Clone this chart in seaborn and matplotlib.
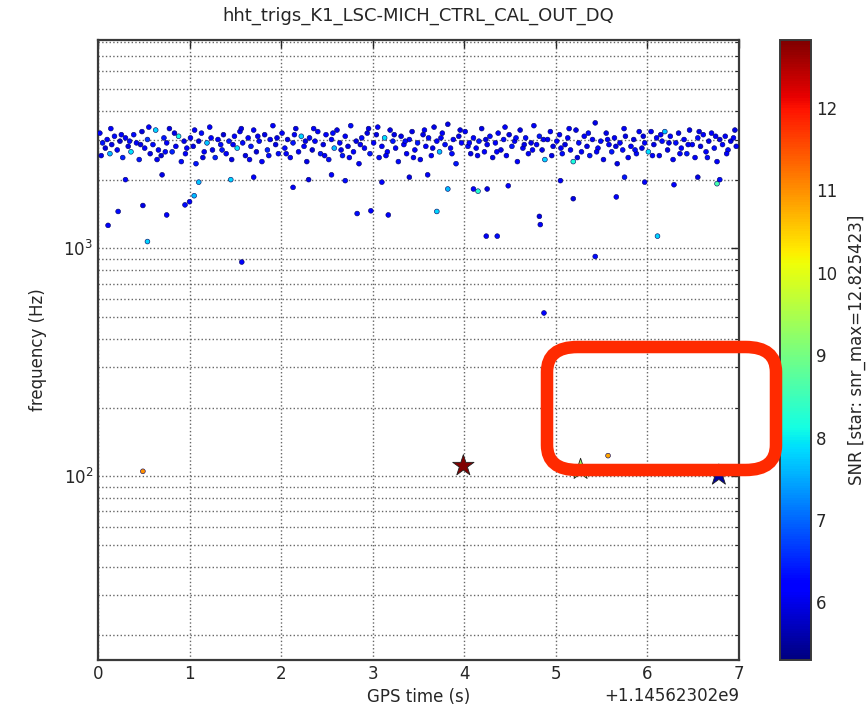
import numpy as np
import pandas as pd
import matplotlib
matplotlib.use("Agg")
import matplotlib.pyplot as plt
import seaborn as sns
from matplotlib.patches import FancyBboxPatch
from matplotlib.colors import Normalize
from matplotlib.cm import ScalarMappable

# ---------------- data ----------------
gps_base = 1145623020
title = "hht_trigs_K1_LSC-MICH_CTRL_CAL_OUT_DQ"
snr_min, snr_max = 5.3, 12.825423

# dense band of triggers (time offset s, frequency Hz, SNR)
band_points = [
    (0.02,3200,6.1),(0.05,2900,6.4),(0.08,2750,5.9),(0.10,3000,6.2),(0.13,2600,7.6),(0.15,2850,6.0),(0.18,3100,6.3),(0.21,2700,6.1),(0.24,2950,5.8),(0.27,2500,6.5),
    (0.30,3050,6.2),(0.33,2800,6.0),(0.36,2650,7.9),(0.39,3150,6.3),(0.42,2900,6.1),(0.45,2450,6.4),(0.48,3250,5.9),(0.51,2750,6.2),(0.54,3000,6.6),(0.57,2600,6.0),
    (0.60,2850,6.3),(0.63,3300,7.8),(0.66,2700,6.1),(0.69,2550,5.9),(0.72,3050,6.4),(0.75,2900,6.2),(0.78,3350,6.0),(0.81,2650,6.5),(0.85,2800,6.1),(0.88,3100,8.1),
    (0.91,2400,6.3),(0.94,2950,6.0),(0.97,2750,6.2),
    (1.01,3050,6.2),(1.04,2800,6.0),(1.07,2350,6.4),(1.10,2950,5.9),(1.13,3200,6.3),(1.16,2650,6.1),(1.19,2900,7.7),(1.22,3400,6.2),(1.25,2700,6.0),(1.28,2500,6.5),
    (1.31,3000,6.1),(1.34,2850,6.3),(1.37,3150,5.9),(1.40,2600,6.2),(1.43,2950,6.4),(1.46,2450,6.0),(1.49,3100,6.2),(1.52,2750,7.9),(1.55,3250,6.1),(1.58,2900,6.3),
    (1.61,2550,6.0),(1.64,3050,6.2),(1.67,2800,6.4),(1.70,3300,6.1),(1.73,2650,5.9),(1.76,2950,6.3),(1.79,2400,6.2),(1.82,3150,6.0),(1.85,2700,6.5),(1.88,3000,6.1),
    (1.91,3450,6.2),(1.94,2850,6.0),(1.97,2600,6.3),
    (2.01,3200,6.1),(2.04,2750,6.3),(2.07,3000,6.0),(2.10,2500,6.2),(2.13,2900,6.4),(2.16,3350,6.0),(2.19,2650,6.1),(2.22,3100,7.8),(2.25,2800,6.2),(2.28,2400,6.0),
    (2.31,3050,6.3),(2.34,2700,5.9),(2.37,2950,6.2),(2.40,3250,6.1),(2.43,2600,6.4),(2.46,2850,6.0),(2.49,3150,6.2),(2.52,2450,6.3),(2.55,3000,6.1),(2.58,2750,7.6),
    (2.61,3300,6.0),(2.64,2900,6.2),(2.67,2550,6.4),(2.70,3100,6.1),(2.73,2800,6.0),(2.76,3450,6.3),(2.79,2650,6.2),(2.82,2950,6.0),(2.85,2350,6.1),(2.88,3050,6.3),
    (2.91,2750,6.2),(2.94,3200,6.0),(2.97,2600,6.4),
    (3.01,2900,6.2),(3.04,3150,6.0),(3.07,2500,6.3),(3.10,2800,6.1),(3.13,3050,7.9),(3.16,2650,6.2),(3.19,3300,6.0),(3.22,2950,6.4),(3.25,2750,6.1),(3.28,2400,6.3),
    (3.31,3100,6.0),(3.34,2850,6.2),(3.37,2600,6.1),(3.40,3000,6.3),(3.43,3250,6.0),(3.46,2700,6.2),(3.49,2900,6.4),(3.52,2450,6.1),(3.55,3150,6.0),(3.58,2800,6.2),
    (3.61,3050,6.3),(3.64,2550,6.1),(3.67,3400,6.0),(3.70,2950,6.2),(3.73,2650,7.7),(3.76,3200,6.1),(3.79,2850,6.3),(3.82,3500,6.0),(3.85,2750,6.2),(3.88,3000,6.1),
    (3.91,2350,6.4),(3.94,3100,6.0),(3.97,2900,6.2),
    (4.01,3250,6.1),(4.04,2800,6.3),(4.07,2600,6.0),(4.10,3050,6.2),(4.13,2750,6.1),(4.16,2950,6.4),(4.19,3350,6.0),(4.22,2650,6.2),(4.25,2850,6.1),(4.28,3100,6.3),
    (4.31,2500,6.0),(4.34,2900,6.2),(4.37,3200,6.1),(4.40,2700,6.0),(4.43,3000,6.3),(4.46,2550,6.2),(4.49,3150,6.0),(4.52,2800,6.4),(4.55,2950,6.1),(4.58,2400,6.2),
    (4.61,3300,6.0),(4.64,2750,6.1),(4.67,3050,6.3),(4.70,2600,6.2),(4.73,2900,6.0),(4.76,3450,6.1),(4.79,2850,6.2),(4.82,3100,6.4),(4.85,2700,6.0),(4.88,2450,7.8),
    (4.91,3000,6.1),(4.94,3250,6.2),(4.97,2800,6.0),
    (5.01,2950,6.2),(5.04,3150,6.1),(5.07,2600,6.3),(5.10,2850,6.0),(5.13,3050,6.2),(5.16,2700,6.1),(5.19,2400,8.2),(5.22,3300,6.0),(5.25,2900,6.3),(5.28,2650,6.1),
    (5.31,3100,6.2),(5.34,2800,6.0),(5.37,2550,6.4),(5.40,3000,6.1),(5.43,3550,6.0),(5.46,2750,6.2),(5.49,2950,6.3),(5.52,2450,6.1),(5.55,3200,6.0),(5.58,2850,6.2),
    (5.61,2650,6.4),(5.64,3050,6.1),(5.67,2350,6.0),(5.70,2900,6.2),(5.73,2700,6.3),(5.76,3100,6.0),(5.79,2500,6.1),(5.82,2800,6.2),(5.85,3000,6.0),(5.88,2600,6.3),
    (5.91,3250,6.1),(5.94,2750,6.0),(5.97,2900,6.2),
    (6.01,2650,7.9),(6.04,3250,6.1),(6.07,2850,6.0),(6.10,3050,6.2),(6.13,2550,6.1),(6.16,2950,6.3),(6.19,3250,7.7),(6.22,2700,6.0),(6.25,3100,6.2),(6.28,2450,6.1),
    (6.31,2900,6.3),(6.34,3200,6.0),(6.37,2750,6.2),(6.40,3000,6.1),(6.43,2600,6.4),(6.46,3300,6.0),(6.49,2850,6.2),(6.52,2500,6.1),(6.55,3050,6.3),(6.58,2800,6.0),
    (6.61,3150,6.2),(6.64,2650,6.1),(6.67,2950,6.0),(6.70,3200,6.2),(6.73,2750,6.3),(6.76,2400,6.1),(6.79,3000,6.0),(6.82,2850,6.2),(6.85,3100,6.1),(6.88,2700,6.3),
    (6.91,2950,6.0),(6.94,3050,6.2),(6.97,2800,6.1),
]

# more triggers in the same band
band_points_2 = [
    (0.035,2550,6.0),(0.14,3350,6.2),(0.255,3150,6.1),(0.345,2950,6.3),(0.465,2850,6.0),(0.555,3400,6.2),(0.645,2450,6.1),(0.735,2650,6.3),(0.835,3200,6.0),(0.955,2600,6.2),
    (1.055,3300,6.1),(1.145,2500,6.0),(1.235,3050,6.2),(1.355,2700,6.4),(1.475,2850,6.1),(1.565,3350,6.0),(1.655,2450,6.2),(1.745,3100,6.1),(1.865,2550,6.3),(1.955,3050,6.0),
    (2.055,2600,6.2),(2.145,3150,6.1),(2.265,2950,6.0),(2.355,3350,6.2),(2.475,2550,6.1),(2.565,3200,6.3),(2.655,2700,6.0),(2.745,2500,6.2),(2.865,2850,6.1),(2.955,3350,6.0),
    (3.055,3400,6.2),(3.145,2550,6.1),(3.235,3150,6.0),(3.355,2950,6.3),(3.445,2500,6.1),(3.565,3300,6.2),(3.655,2750,6.0),(3.745,3050,6.1),(3.865,2600,6.3),(3.955,3300,6.0),
    (4.055,2900,6.2),(4.145,2550,6.1),(4.235,3000,6.0),(4.355,2650,6.2),(4.445,3400,6.1),(4.565,3050,6.3),(4.655,2850,6.0),(4.745,2700,6.2),(4.865,3000,6.1),(4.955,2550,6.0),
    (5.055,2750,6.2),(5.145,3350,6.1),(5.235,2500,6.0),(5.355,3200,6.3),(5.445,2650,6.1),(5.565,3000,6.2),(5.655,2800,6.0),(5.745,3350,6.1),(5.865,2700,6.3),(5.955,3100,6.0),
    (6.055,2550,6.2),(6.145,3150,6.1),(6.235,2900,6.0),(6.355,2600,6.2),(6.445,2850,6.1),(6.565,3250,6.0),(6.655,2500,6.3),(6.745,3100,6.1),(6.865,2600,6.2),(6.955,3300,6.0),
]

# sparse triggers below the band
sparse_points = [
    (0.11,1260,6.1),(0.22,1450,6.3),(0.49,1540,6.0),(0.54,1070,7.8),(0.75,1400,6.2),(0.95,1550,6.3),
    (1.00,1600,6.1),(1.05,1700,7.6),(1.10,1950,7.7),(1.57,870,6.2),(1.70,2050,6.2),(2.13,1850,6.1),
    (2.30,2000,6.0),(2.55,2100,6.2),(2.83,1420,6.3),(2.98,1460,6.2),(3.17,1400,6.1),(3.10,1950,6.2),
    (3.40,2050,6.0),(3.70,1450,7.8),(3.82,1820,7.6),(4.10,1820,6.2),(4.15,1780,8.3),(4.25,1820,6.0),
    (4.24,1130,6.1),(4.36,1130,6.3),(4.48,1880,6.2),(4.82,1380,6.0),(4.83,1270,6.1),(4.87,520,6.2),
    (5.19,1650,6.0),(5.43,920,6.3),(5.66,1680,6.2),(5.97,1950,6.1),(6.11,1130,7.8),(6.29,1900,6.2),
    (6.55,2050,6.0),(6.76,1920,8.6),(6.79,2000,6.3),(5.05,1980,6.1),(5.75,2050,6.4),(0.30,2000,6.2),
    (0.70,2100,6.0),(1.45,2000,7.8),(2.70,1980,6.3),(3.60,2100,6.1),
    (0.49,105,11.0),(5.57,123,10.8),
]

# loudest triggers (stars)
star_t = [3.99, 5.27, 6.78]
star_f = [111, 107, 101]
star_snr = [12.825423, 9.3, 5.5]

# ---------------- build tables ----------------
trig = pd.DataFrame(band_points + band_points_2 + sparse_points, columns=["t", "freq", "snr"])
trig["gps"] = gps_base + trig["t"]
stars = pd.DataFrame({"gps": gps_base + np.array(star_t), "freq": star_f, "snr": star_snr})

# ---------------- style ----------------
sns.set_style("white")
plt.rcParams["font.family"] = ["DejaVu Sans"]
plt.rcParams["text.color"] = "#262626"
plt.rcParams["axes.labelcolor"] = "#262626"
plt.rcParams["xtick.color"] = "#262626"
plt.rcParams["ytick.color"] = "#262626"

jet = matplotlib.colormaps["jet"]

W, H = 868, 715
fig = plt.figure(figsize=(W / 100, H / 100), dpi=100)
ax = fig.add_axes([98 / W, 1 - 660 / H, (739 - 98) / W, (660 - 40) / H])
cax = fig.add_axes([780 / W, 1 - 660 / H, 31 / W, (660 - 40) / H])

norm = Normalize(vmin=snr_min, vmax=snr_max)
sns.scatterplot(data=trig, x="gps", y="freq", hue="snr", palette=jet, hue_norm=norm,
                s=12, linewidth=0.4, edgecolor="#000060", legend=False, ax=ax, zorder=3)
sns.scatterplot(data=stars, x="gps", y="freq", hue="snr", palette=jet, hue_norm=norm,
                marker="*", s=260, linewidth=0.6, edgecolor="#202020", legend=False, ax=ax, zorder=4)

ax.set_yscale("log")
ax.set_xlim(gps_base, gps_base + 7)
ax.set_ylim(15.6, 8200)
ax.set_xticks(gps_base + np.arange(0, 8))
ax.ticklabel_format(axis="x", useOffset=gps_base)
ax.grid(True, which="major", axis="x", linestyle=":", color="#666666", linewidth=1.0)
ax.grid(True, which="both", axis="y", linestyle=":", color="#666666", linewidth=1.0)
ax.tick_params(which="both", direction="in", top=True, right=True, labelsize=12)
ax.tick_params(which="major", length=6, width=1)
ax.tick_params(which="minor", length=3, width=0.8)
for sp in ax.spines.values():
    sp.set_linewidth(1.6)
    sp.set_color("#3a3a3a")
ax.set_xlabel("GPS time (s)", fontsize=12)
ax.set_ylabel("frequency (Hz)", fontsize=12, labelpad=12)
ax.set_title(title, fontsize=13, pad=14)
ax.xaxis.get_offset_text().set_fontsize(12)

sm = ScalarMappable(norm=norm, cmap=jet)
cb = fig.colorbar(sm, cax=cax)
cb.set_ticks([6, 7, 8, 9, 10, 11, 12])
cax.tick_params(labelsize=12, direction="in", length=5)
cb.outline.set_linewidth(1.4)
cb.outline.set_edgecolor("#3a3a3a")
cb.set_label("SNR [star: snr_max=12.825423]", fontsize=12, labelpad=8)

# hand-drawn highlight box
box = FancyBboxPatch((547 / W, 1 - 470 / H), (776 - 547) / W, (470 - 347) / H,
                     boxstyle="round,pad=0,rounding_size=0.035", transform=fig.transFigure,
                     fill=False, edgecolor="#ff2a00", linewidth=9, zorder=10)
fig.patches.append(box)

fig.savefig("out.png", dpi=100)
